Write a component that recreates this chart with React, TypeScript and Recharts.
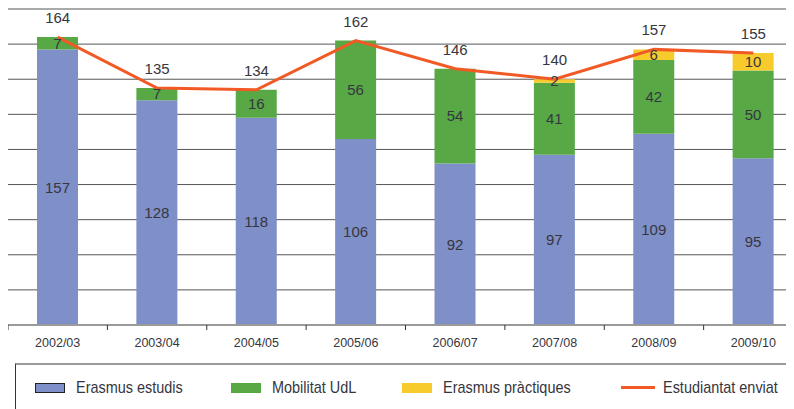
import { ComposedChart, Bar, Line, XAxis, YAxis, CartesianGrid, LabelList } from 'recharts';

const years = ['2002/03', '2003/04', '2004/05', '2005/06', '2006/07', '2007/08', '2008/09', '2009/10'];
const erasmusEstudis = [157, 128, 118, 106, 92, 97, 109, 95];
const mobilitatUdl = [7, 7, 16, 56, 54, 41, 42, 50];
const erasmusPractiques = [null, null, null, null, null, 2, 6, 10];
const estudiantatEnviat = [164, 135, 134, 162, 146, 140, 157, 155];
const yTicks = [0, 20, 40, 60, 80, 100, 120, 140, 160, 180];

const data = years.map((year, i) => ({
  year,
  estudis: erasmusEstudis[i],
  udl: mobilitatUdl[i],
  practiques: erasmusPractiques[i],
  total: estudiantatEnviat[i],
}));

const BLUE = '#7f8fc8';
const GREEN = '#58a846';
const YELLOW = '#f8cb2c';
const ORANGE = '#f15a24';
const TEXT = '#363640';

const CHART_W = 795;
const BAND = CHART_W / years.length;
const FONT = "'Liberation Sans', Arial, sans-serif";

// tick mark sits on the band boundary, label in the middle of the band
const YearTick = (props: any) => {
  const { x, y, payload } = props;
  return (
    <g>
      <line x1={x - BAND / 2} y1={y} x2={x - BAND / 2} y2={y + 5} stroke="#333" strokeWidth={1} />
      <text x={x} y={y + 18} textAnchor="middle" dominantBaseline="central" fill={TEXT} fontSize={12.5} fontFamily={FONT}>
        {payload.value}
      </text>
    </g>
  );
};

const hideEmpty = (v: any) => (v ? v : '');

const labelStyle = { fill: TEXT, fontSize: 15, fontFamily: FONT };

const legendItems = [
  { name: 'Erasmus estudis', color: BLUE, kind: 'box', left: 19, textLeft: 60 },
  { name: 'Mobilitat UdL', color: GREEN, kind: 'rect', left: 215, textLeft: 256 },
  { name: 'Erasmus pràctiques', color: YELLOW, kind: 'rect', left: 386, textLeft: 427 },
  { name: 'Estudiantat enviat', color: ORANGE, kind: 'line', left: 605, textLeft: 647 },
];

export default function App() {
  return (
    <div style={{ width: 786, overflow: 'hidden' }}>
      <ComposedChart width={CHART_W} height={355} data={data} margin={{ top: 1, right: 0, bottom: 0, left: 0 }}>
        <CartesianGrid vertical={false} stroke="#555" strokeWidth={1} />
        <YAxis hide width={0} domain={[0, 180]} ticks={yTicks} />
        <XAxis
          dataKey="year"
          height={38}
          axisLine={{ stroke: '#9a9a9a', strokeWidth: 2 }}
          tickLine={false}
          tickSize={0}
          tickMargin={0}
          interval={0}
          tick={<YearTick />}
        />
        <Bar dataKey="estudis" stackId="a" fill={BLUE} barSize={41} isAnimationActive={false}>
          <LabelList dataKey="estudis" position="center" formatter={hideEmpty} style={labelStyle} />
        </Bar>
        <Bar dataKey="udl" stackId="a" fill={GREEN} barSize={41} isAnimationActive={false}>
          <LabelList dataKey="udl" position="center" formatter={hideEmpty} style={labelStyle} />
        </Bar>
        <Bar dataKey="practiques" stackId="a" fill={YELLOW} barSize={41} isAnimationActive={false}>
          <LabelList dataKey="practiques" position="center" formatter={hideEmpty} style={labelStyle} />
        </Bar>
        <Line dataKey="total" stroke={ORANGE} strokeWidth={3} dot={false} activeDot={false} isAnimationActive={false}>
          <LabelList dataKey="total" position="top" offset={14} style={labelStyle} />
        </Line>
      </ComposedChart>
      <div
        style={{
          position: 'relative',
          marginLeft: 7,
          width: 820,
          height: 50,
          borderTop: '2px solid #9a9a9a',
          borderLeft: '1px solid #333',
          fontFamily: FONT,
          fontSize: 17,
          color: TEXT,
        }}
      >
        {legendItems.map((it) => (
          <div key={it.name}>
            {it.kind === 'line' ? (
              <div style={{ position: 'absolute', left: it.left, top: 21, width: 34, height: 3, background: it.color }} />
            ) : (
              <div
                style={{
                  position: 'absolute',
                  left: it.left,
                  top: 18,
                  width: 30,
                  height: 10,
                  boxSizing: 'border-box',
                  background: it.color,
                  border: it.kind === 'box' ? '1px solid #222' : 'none',
                }}
              />
            )}
            {/* the original legend type is condensed, so squeeze it horizontally */}
            <span
              style={{
                position: 'absolute',
                left: it.textLeft,
                top: 13,
                lineHeight: '20px',
                whiteSpace: 'nowrap',
                transform: 'scaleX(0.85)',
                transformOrigin: 'left center',
              }}
            >
              {it.name}
            </span>
          </div>
        ))}
      </div>
    </div>
  );
}
